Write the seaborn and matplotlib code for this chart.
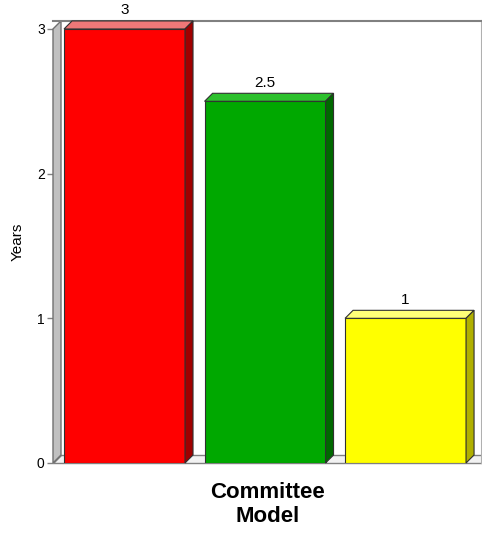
import matplotlib
matplotlib.use('Agg')
import matplotlib.pyplot as plt
import seaborn as sns
import pandas as pd

# chart data
categories = ['Red', 'Green', 'Yellow']
years = [3, 2.5, 1]
value_labels = ['3', '2.5', '1']
front_colors = ['#ff0000', '#00a800', '#ffff00']
top_colors = ['#f07878', '#2cc02c', '#ffff78']
side_colors = ['#a00000', '#006800', '#b0b000']
y_ticks = [0, 1, 2, 3]

df = pd.DataFrame({'cat': categories, 'Years': years})

sns.set_style('white')
plt.rcParams['font.family'] = ['Liberation Sans', 'DejaVu Sans']

fig = plt.figure(figsize=(4.82, 5.39), dpi=100)
ax = fig.add_axes([53 / 482, 76 / 539, 429 / 482, 442 / 539])

sns.barplot(data=df, x='cat', y='Years', hue='cat', palette=front_colors,
            saturation=1, legend=False, width=0.861, ax=ax,
            edgecolor='#303030', linewidth=0.8, zorder=3)

xl, xr = -0.509, 2.544
ax.set_xlim(xl, xr)
ax.set_ylim(0, 3.055)

# depth of the fake 3d effect in data units
dx, dy = 8 / 140.5, 8 / 144.7

# floor and left wall
ax.fill([xl, xr, xr, xl + dx], [0, 0, dy, dy], facecolor='#f2f2f2',
        edgecolor='#808080', lw=1, zorder=1, clip_on=False)
ax.fill([xl, xl, xl + dx, xl + dx], [0, 3, 3 + dy, dy], facecolor='#c0c0c0',
        edgecolor='#707070', lw=1, zorder=1, clip_on=False)

# top and side faces of each bar
for p, tc, sc, lab in zip(ax.patches, top_colors, side_colors, value_labels):
    x0 = p.get_x()
    w = p.get_width()
    h = p.get_height()
    ax.fill([x0, x0 + w, x0 + w + dx, x0 + dx], [h, h, h + dy, h + dy],
            facecolor=tc, edgecolor='#303030', lw=0.8, zorder=4, clip_on=False)
    ax.fill([x0 + w, x0 + w + dx, x0 + w + dx, x0 + w], [0, dy, h + dy, h],
            facecolor=sc, edgecolor='#303030', lw=0.8, zorder=4, clip_on=False)
    ax.text(x0 + w / 2, h + dy + 0.025, lab, ha='center', va='bottom',
            fontsize=11, color='black')

ax.set_yticks(y_ticks)
ax.set_yticklabels([str(t) for t in y_ticks], fontsize=10, color='black')
ax.tick_params(axis='y', left=True, length=4, width=1, color='#808080', pad=2)
ax.set_xticks([])

ax.spines['left'].set_visible(False)
ax.spines['bottom'].set_visible(False)
ax.spines['top'].set_color('#808080')
ax.spines['top'].set_linewidth(1.5)
ax.spines['right'].set_color('#b0b0b0')
ax.spines['right'].set_linewidth(1.5)

ax.set_ylabel('Years', fontsize=11, labelpad=9, color='black')
ax.set_xlabel('Committee\nModel', fontsize=16, fontweight='bold', labelpad=14,
              linespacing=1.15, color='black')

plt.savefig('out.png', dpi=100)
